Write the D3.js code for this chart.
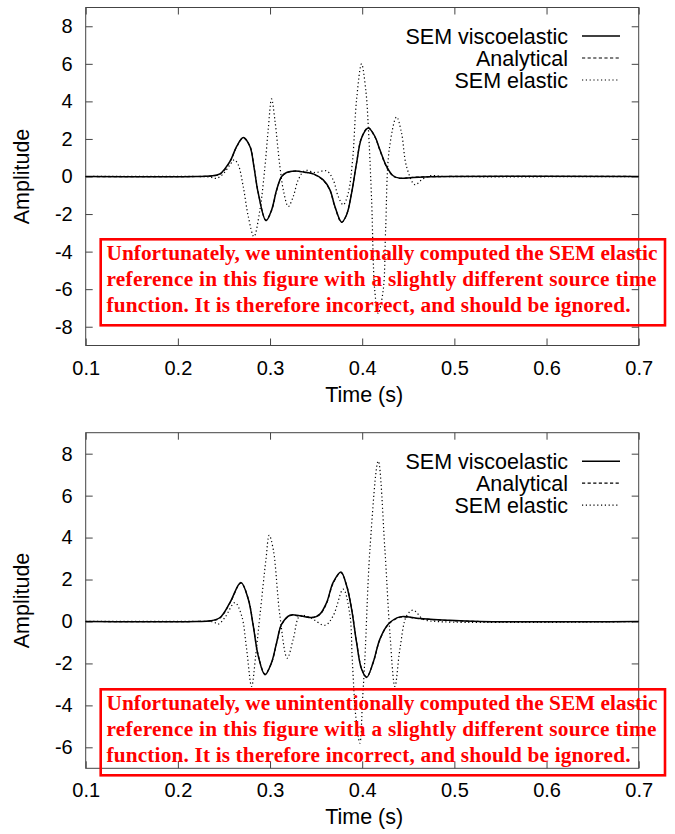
<html>
<head>
    <title>SEM viscoelastic vs analytical</title>
    <meta charset="UTF-8" />
    <script src="https://d3js.org/d3.v7.min.js"></script>
    <style>
        body { margin: 0; background: white; }
        .tick text { font-family: "Liberation Sans", Arial, Helvetica, sans-serif; font-size: 20px; fill: black; }
        .tick line { stroke: #444; }
        .domain { stroke: none; }
        .label { font-family: "Liberation Sans", Arial, Helvetica, sans-serif; font-size: 21.5px; fill: black; }
        .note { font-family: "Liberation Serif", "Times New Roman", serif; font-weight: bold; font-size: 21.3px; fill: #ff0000; }
    </style>
</head>
<body>
<svg height="834" width="675" id="svg1"></svg>
<script>
    // ---- data ----
    const timeTicks = [0.1, 0.2, 0.3, 0.4, 0.5, 0.6, 0.7];
    const topAmpTicks = [-8, -6, -4, -2, 0, 2, 4, 6, 8];
    const bottomAmpTicks = [-6, -4, -2, 0, 2, 4, 6, 8];
    const seriesNames = ["SEM viscoelastic", "Analytical", "SEM elastic"];
    const noteLines = [
        "Unfortunately, we unintentionally computed the SEM elastic",
        "reference in this figure with a slightly different source time",
        "function. It is therefore incorrect, and should be ignored."
    ];

    // top panel
    const topViscoTime = [0.1, 0.22, 0.235, 0.2457, 0.2565, 0.2638, 0.2709, 0.2782, 0.2825, 0.2872,
        0.2956, 0.3017, 0.3072, 0.3126, 0.318, 0.327, 0.3397, 0.3469, 0.3577, 0.365,
        0.3704, 0.3777, 0.3831, 0.3885, 0.3939, 0.3993, 0.4065, 0.4138, 0.4192, 0.4265,
        0.4336, 0.4409, 0.4553, 0.4915, 0.7];
    const topViscoAmp = [0, 0, 0.03, 0.14, 0.8, 1.6, 2.08, 1.6, 0.53, -0.89,
        -2.35, -1.78, -0.71, 0, 0.21, 0.29, 0.21, 0.14, -0.18, -0.71,
        -1.6, -2.43, -2.04, -0.89, 0.71, 2.05, 2.58, 2.13, 1.42, 0.53,
        0.04, -0.09, -0.05, 0, 0];
    const topAnalyticalAmp = [0, 0, 0.02, 0.12, 0.78, 1.58, 2.05, 1.62, 0.55, -0.86,
        -2.32, -1.8, -0.73, -0.02, 0.2, 0.28, 0.22, 0.13, -0.2, -0.73,
        -1.62, -2.45, -2.02, -0.87, 0.73, 2.07, 2.6, 2.1, 1.4, 0.5,
        0.02, -0.1, -0.04, 0, 0];
    const topElasticTime = [0.1, 0.22, 0.2348, 0.2421, 0.2492, 0.2565, 0.2612, 0.2655, 0.2709, 0.2764,
        0.2825, 0.289, 0.2945, 0.298, 0.3017, 0.3053, 0.3107, 0.3151, 0.3198, 0.3252,
        0.3306, 0.3379, 0.3487, 0.3614, 0.3685, 0.374, 0.3794, 0.3848, 0.3896, 0.3939,
        0.3993, 0.4041, 0.4066, 0.4102, 0.4136, 0.4173, 0.4228, 0.4254, 0.4293, 0.4373,
        0.4427, 0.4481, 0.4572, 0.4644, 0.4734, 0.49, 0.7];
    const topElasticAmp = [0, 0, -0.03, -0.1, 0.14, 0.62, 0.89, 0.62, -0.53, -2.13,
        -3.2, -1.78, 0.53, 2.49, 4.13, 3.0, 0.53, -0.89, -1.6, -1.07,
        -0.18, 0.32, 0.21, 0.3, -0.18, -1.07, -1.51, -0.89, 0.89, 4.09,
        6.0, 4.5, 2.67, -1.24, -6.05, -7.29, -6.05, -2.85, 1.42, 3.17,
        2.31, 0.53, -0.44, -0.18, 0.04, 0, 0];

    // bottom panel
    const botViscoTime = [0.1, 0.22, 0.2348, 0.2457, 0.2565, 0.2684, 0.2764, 0.2818, 0.2872, 0.2945,
        0.3017, 0.3072, 0.3126, 0.3216, 0.3324, 0.3469, 0.3541, 0.3614, 0.3685, 0.3769,
        0.3831, 0.3885, 0.3939, 0.3993, 0.4048, 0.4119, 0.4192, 0.4282, 0.4409, 0.4626,
        0.4915, 0.5277, 0.7];
    const botViscoAmp = [0, 0, 0.03, 0.19, 0.9, 1.86, 1.06, -0.21, -1.64, -2.54,
        -1.95, -1.0, -0.13, 0.3, 0.27, 0.19, 0.35, 0.9, 1.86, 2.36,
        1.7, 0.59, -1.0, -2.27, -2.67, -1.95, -0.84, -0.13, 0.22, 0.14,
        0.06, 0, 0];
    const botAnalyticalAmp = [0, 0, 0.02, 0.17, 0.88, 1.83, 1.08, -0.18, -1.6, -2.5,
        -1.97, -1.02, -0.15, 0.28, 0.26, 0.2, 0.33, 0.87, 1.83, 2.33,
        1.72, 0.62, -0.97, -2.24, -2.64, -1.97, -0.86, -0.15, 0.2, 0.13,
        0.05, 0, 0];
    const botElasticTime = [0.1, 0.22, 0.2384, 0.2438, 0.2511, 0.2619, 0.2692, 0.2746, 0.28, 0.2845,
        0.289, 0.2956, 0.2991, 0.3035, 0.3107, 0.3187, 0.3252, 0.3324, 0.3433, 0.3596,
        0.3685, 0.3794, 0.3867, 0.3892, 0.3932, 0.3975, 0.4004, 0.4029, 0.4084, 0.4174,
        0.4246, 0.43, 0.4355, 0.4409, 0.4482, 0.4553, 0.4662, 0.4807, 0.7];
    const botElasticAmp = [0, 0, -0.02, -0.13, 0.19, 0.9, 0.27, -1.32, -3.1, -1.6,
        0.27, 2.97, 4.11, 3.44, 0.27, -1.75, -0.84, 0.27, 0.19, -0.18,
        0.27, 1.54, 0.3, -1.8, -4.6, -5.8, -3.7, -1.8, 3.44, 7.65,
        3.44, -0.52, -3.1, -1.32, 0.27, 0.54, 0.11, 0, 0];

    // ---- setup ----
    const svg1 = d3.select("svg#svg1");
    const plotLeft = 85.7, plotRight = 638.7;
    const dashes = ["none", "3.2,2.4", "1.2,2.6"];
    const widths = [1.5, 1.2, 1.2];

    const zipSeries = (t, a) => t.map((d, i) => ({time: d, amp: a[i]}));

    function drawPanel(top, bottom, ampDomain, ampTicks, series) {
        const x = d3.scaleLinear().domain([0.1, 0.7]).range([plotLeft, plotRight]);
        const y = d3.scaleLinear().domain(ampDomain).range([bottom, top]);
        const g = svg1.append("g");

        // ticks on all four sides, pointing inwards; labels only bottom and left
        g.append("g").attr("transform", "translate(0," + bottom + ")")
            .call(d3.axisBottom(x).tickValues(timeTicks).tickFormat(d => d.toFixed(1))
                .tickSizeInner(-7).tickSizeOuter(0).tickPadding(15));
        g.append("g").attr("transform", "translate(0," + top + ")")
            .call(d3.axisTop(x).tickValues(timeTicks).tickFormat("")
                .tickSizeInner(-7).tickSizeOuter(0));
        g.append("g").attr("transform", "translate(" + plotLeft + ",0)")
            .call(d3.axisLeft(y).tickValues(ampTicks).tickFormat(d => String(d))
                .tickSizeInner(-7).tickSizeOuter(0).tickPadding(13));
        g.append("g").attr("transform", "translate(" + plotRight + ",0)")
            .call(d3.axisRight(y).tickValues(ampTicks).tickFormat("")
                .tickSizeInner(-7).tickSizeOuter(0));
        g.selectAll("g").attr("font-size", null).attr("font-family", null);

        // frame
        g.append("rect").attr("x", plotLeft).attr("y", top)
            .attr("width", plotRight - plotLeft).attr("height", bottom - top)
            .attr("fill", "none").attr("stroke", "#444").attr("stroke-width", 1);

        // curves
        const lineGen = d3.line()
            .x(d => x(d.time))
            .y(d => y(d.amp))
            .curve(d3.curveCatmullRom.alpha(0.5));

        g.selectAll("path.curve").data(series).join("path")
            .attr("class", "curve")
            .attr("d", d => lineGen(d))
            .attr("fill", "none")
            .attr("stroke", "black")
            .attr("stroke-width", (d, i) => widths[i])
            .attr("stroke-dasharray", (d, i) => dashes[i]);

        // axis labels
        g.append("text").attr("class", "label")
            .attr("transform", "translate(29," + ((top + bottom) / 2) + ") rotate(-90)")
            .attr("text-anchor", "middle").text("Amplitude");
        g.append("text").attr("class", "label")
            .attr("x", (plotLeft + plotRight) / 2 + 2).attr("y", bottom + 56)
            .attr("text-anchor", "middle").text("Time (s)");

        // legend
        const legend = g.selectAll("g.legend").data(seriesNames).join("g")
            .attr("class", "legend")
            .attr("transform", (d, i) => "translate(0," + (top + 36 + i * 22) + ")");
        legend.append("text").attr("class", "label")
            .attr("x", 568).attr("text-anchor", "end").text(d => d);
        legend.append("line")
            .attr("x1", 582).attr("x2", 620).attr("y1", -7.5).attr("y2", -7.5)
            .attr("stroke", "black")
            .attr("stroke-width", (d, i) => widths[i])
            .attr("stroke-dasharray", (d, i) => dashes[i]);
    }

    function drawNote(boxTop) {
        const lineWidths = [551, 550, 524];
        const g = svg1.append("g");
        g.append("rect").attr("x", 100.7).attr("y", boxTop)
            .attr("width", 564.3).attr("height", 86)
            .attr("fill", "none").attr("stroke", "#ff0000").attr("stroke-width", 2.6);
        g.selectAll("text").data(noteLines).join("text")
            .attr("class", "note")
            .attr("x", 106.5)
            .attr("y", (d, i) => boxTop + 20.5 + i * 26)
            .attr("textLength", (d, i) => lineWidths[i])
            .attr("lengthAdjust", "spacing")
            .text(d => d);
    }

    drawPanel(7.5, 345.5, [-9, 9], topAmpTicks, [
        zipSeries(topViscoTime, topViscoAmp),
        zipSeries(topViscoTime, topAnalyticalAmp),
        zipSeries(topElasticTime, topElasticAmp)
    ]);
    drawPanel(432.7, 768.3, [-7, 9], bottomAmpTicks, [
        zipSeries(botViscoTime, botViscoAmp),
        zipSeries(botViscoTime, botAnalyticalAmp),
        zipSeries(botElasticTime, botElasticAmp)
    ]);
    drawNote(239.3);
    drawNote(689.3);
</script>
</body>
</html>
